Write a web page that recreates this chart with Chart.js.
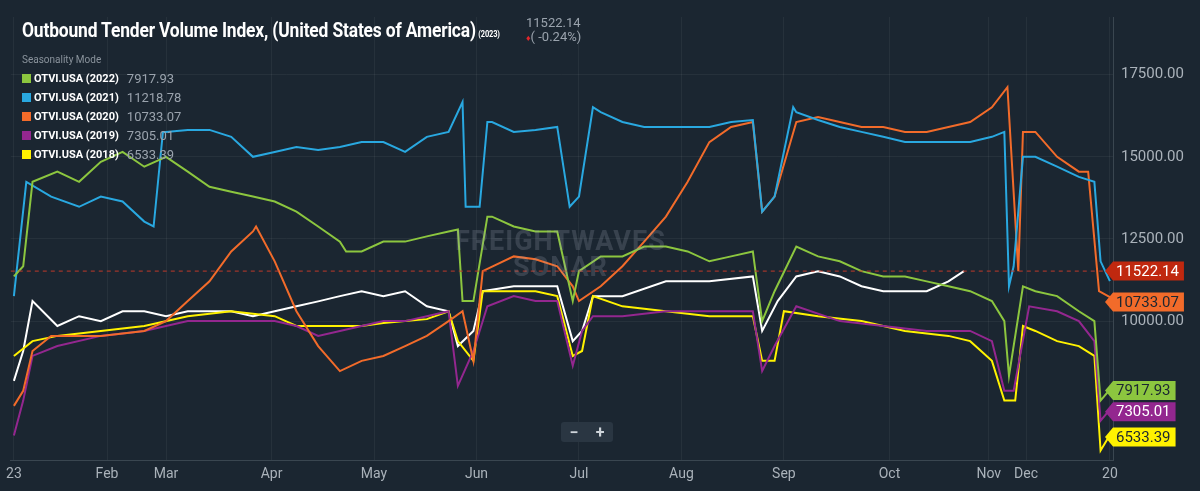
<!DOCTYPE html>
<html><head><meta charset="utf-8">
<script src="https://cdn.jsdelivr.net/npm/chart.js@4/dist/chart.umd.min.js"></script>
<style>
html,body{margin:0;padding:0;background:#e9ecef;}
#wrap{position:relative;width:1200px;height:491px;background:#1b2631;overflow:hidden;font-family:Roboto,"Noto Sans",sans-serif;}
canvas{position:absolute;left:0;top:0;}
#title{position:absolute;left:22px;top:18px;color:#fff;font-family:Roboto;font-weight:bold;font-size:21px;transform:scaleX(0.83);transform-origin:left top;white-space:nowrap;letter-spacing:-0.2px;}
#title small{font-size:9px;margin-left:3px;}
#val{position:absolute;left:526px;top:16px;color:#9aa3ad;font-size:13px;line-height:14px;}
#val span{color:#e0262b;font-size:9px;}
#leg{position:absolute;left:22px;top:54px;font-size:11px;color:#fff;}
#leg .m{color:#8a939c;font-size:10px;margin-bottom:4px;}
#leg .r{height:19px;display:flex;align-items:center;font-weight:bold;}
#leg .r i{display:inline-block;width:9px;height:9px;margin-right:3px;}
#leg .r b{font-weight:normal;color:#9aa3ad;font-size:13px;margin-left:8px;}
#zoom{position:absolute;left:561px;top:422px;width:52px;height:20px;background:#2a3642;border-radius:3px;color:#cfd5db;font-size:16px;display:flex;justify-content:space-around;align-items:center;font-weight:bold;}
#wm{position:absolute;left:455px;top:228px;color:rgba(160,170,180,0.22);font-weight:bold;font-size:27px;letter-spacing:1px;line-height:26px;text-align:center;}
</style></head><body>
<div id="wrap"><canvas id="c" width="1200" height="491"></canvas>
<div id="wm">FREIGHTWAVES<br>SONAR</div>
<div id="title">Outbound Tender Volume Index, (United States of America)<small>(2023)</small></div>
<div id="val">11522.14<br><span>♦</span>( -0.24%)</div>
<div id="leg"><div class="m">Seasonality Mode</div></div>
<div id="zoom"><span>−</span><span>+</span></div>
</div>
<script>
const tickDays=[0,30,49,83,116,149,182,215,248,282,314,326,353];
const tickLabels=["23","Feb","Mar","Apr","May","Jun","Jul","Aug","Sep","Oct","Nov","Dec","20"];
const yTicks=[10000,12500,15000,17500];
const current=11522.14;

const d2021=[0,4,12,21,28,35,42,45,48,49,56,63,70,77,84,91,98,105,112,119,126,133,140,144.5,145.5,150,152.5,154,161,168,175,179,182,186.5,189,196,203,210,217,224,231,238,241,245,251,252,259,266,273,280,287,294,301,308,315,319,320.5,322,325,329,336,343,348,350,353];
const v2021=[10760,14240,13790,13480,13790,13640,13030,12880,15760,15760,15820,15820,15610,15000,15150,15300,15210,15300,15450,15450,15150,15610,15760,16670,13480,13480,16060,16060,15760,15820,15910,13480,13790,16510,16360,16060,15910,15910,15910,15910,16060,16120,13330,13790,16510,16360,16120,15910,15760,15610,15450,15450,15450,15450,15610,15760,11060,11670,15000,15000,14700,14390,14240,11820,11218.78];

const d2020=[0,3,6,12,28,42,49,56,63,70,77,78,84,91,98,105,112,119,126,133,140,144.5,148,151,161,168,175,180,182,189,196,203,210,217,224,231,238,241,245,252,259,266,273,280,287,294,301,308,315,320,323.5,325,329,336,343,346,349.5,353];
const v2020=[7420,7880,9090,9550,9550,9700,10000,10610,11210,12120,12730,12880,11820,10300,9240,8480,8790,8940,9240,9550,10000,10300,8790,11520,11970,11880,11670,11060,10610,11060,11670,12420,13180,14240,15450,15910,16060,13330,13790,16060,16210,16060,15910,15910,15760,15760,15910,16060,16510,17120,11520,15760,15760,15000,14550,14550,10910,10733.07];

const d2022=[0,3,6,14,21,28,35,42,49,56,63,70,77,84,91,98,105,107,112,119,126,133,140,143,144.5,148,152.5,154,161,168,175,180,182,189,196,203,210,217,224,231,238,241,245,252,259,266,273,280,287,294,301,308,315,319,320.5,325,329,336,343,348,350,353];
const v2022=[11360,11670,14240,14550,14240,14850,15150,14700,15000,14550,14090,13940,13790,13640,13330,12880,12420,12120,12120,12420,12420,12580,12730,12790,10610,10610,13180,13180,12880,12730,12730,10610,11520,11970,11970,12270,12270,12120,11820,11970,12120,10000,10910,12270,11970,11820,11520,11360,11360,11210,11060,10910,10610,10000,8330,11060,10910,10760,10300,10000,7580,7917.93];

const d2019=[0,3,6,14,28,42,56,70,84,91,98,105,112,119,126,133,140,143,148,152.5,161,168,175,180,183,186.5,196,210,224,238,241,245,252,266,280,294,308,315,319,322,327,336,343,348,350,353];
const v2019=[6520,7580,8940,9240,9550,9700,10000,10000,10000,9850,9550,9700,9850,10000,10000,10150,10300,8030,9090,10450,10760,10610,10610,8640,9700,10150,10150,10300,10300,10300,8480,9240,10450,10000,9850,9700,9700,9390,7880,7880,10450,10300,10000,9390,6970,7305.01];

const d2018=[0,6,14,28,42,56,70,84,91,98,105,112,119,126,133,140,143,148,151,161,168,175,180,183,186.5,196,210,224,238,241,245,248,259,273,287,301,308,315,319,322.5,325,329,336,343,348,350,353];
const v2018=[8940,9390,9550,9700,9850,10150,10300,10150,9850,9850,9850,9850,9940,10000,10060,10300,9390,8790,10910,10910,10910,10760,8940,9090,10760,10450,10300,10150,10150,8790,8790,10300,10150,10000,9700,9550,9390,8790,7580,7580,9850,9700,9390,9240,8940,6060,6533.39];

const d2023=[0,3,6,14,21,28,35,42,49,56,63,70,77,84,91,98,105,112,119,126,133,140,143,148,151,161,168,175,180,183,186.5,196,210,224,238,241,246,252,259,266,273,280,287,294,301,306];
const v2023=[8180,9090,10610,9850,10150,10000,10300,10300,10150,10300,10300,10300,10150,10300,10450,10600,10760,10910,10760,10910,10450,10300,9240,9700,10910,11060,11060,11060,9390,9700,10760,10760,11210,11210,11360,9700,10610,11360,11520,11360,11060,10910,10910,10910,11210,11522.14];

const series=[
 {name:"OTVI.USA (2022)",last:"7917.93",color:"#8cc63f",d:d2022,v:v2022},
 {name:"OTVI.USA (2021)",last:"11218.78",color:"#29a8e0",d:d2021,v:v2021},
 {name:"OTVI.USA (2020)",last:"10733.07",color:"#f26b2a",d:d2020,v:v2020},
 {name:"OTVI.USA (2019)",last:"7305.01",color:"#93278f",d:d2019,v:v2019},
 {name:"OTVI.USA (2018)",last:"6533.39",color:"#fff200",d:d2018,v:v2018}
];
const leg=document.getElementById('leg');
series.forEach(s=>{const r=document.createElement('div');r.className='r';r.innerHTML=`<i style="background:${s.color}"></i>${s.name}<b>${s.last}</b>`;leg.appendChild(r);});

const datasets=series.map(s=>({data:s.d.map((x,i)=>({x,y:s.v[i]})),borderColor:s.color,borderWidth:2,pointRadius:0,tension:0}));
datasets.push({data:d2023.map((x,i)=>({x,y:v2023[i]})),borderColor:"#ffffff",borderWidth:2,pointRadius:0,tension:0});

const tags=[{v:current,t:"11522.14",bg:"#c0280f",fg:"#fff"},{v:10733.07,t:"10733.07",bg:"#f26b2a",fg:"#1b2631"},{v:7917.93,t:"7917.93",bg:"#8cc63f",fg:"#1b2631"},{v:7305.01,t:"7305.01",bg:"#93278f",fg:"#fff"},{v:6533.39,t:"6533.39",bg:"#fff200",fg:"#1b2631"}];
const overlay={id:'ov',afterDatasetsDraw(ch){const c=ch.ctx,y=ch.scales.y,a=ch.chartArea;
 c.save();c.strokeStyle='#c0392b';c.setLineDash([4,4]);c.lineWidth=1;const py=y.getPixelForValue(current);c.beginPath();c.moveTo(a.left,py);c.lineTo(a.right,py);c.stroke();c.setLineDash([]);
 c.font='15px Roboto';
 let offs={"10733.07":5,"7917.93":1,"7305.01":2,"6533.39":2};
 tags.forEach(tg=>{let ty=y.getPixelForValue(tg.v)+(offs[tg.t]||0);const w=c.measureText(tg.t).width+8,x0=1113,h=19;
  c.fillStyle=tg.bg;c.beginPath();c.moveTo(x0-8,ty);c.lineTo(x0,ty-h/2);c.lineTo(x0+w,ty-h/2);c.lineTo(x0+w,ty+h/2);c.lineTo(x0,ty+h/2);c.closePath();c.fill();
  c.fillStyle=tg.fg;c.textBaseline='middle';c.fillText(tg.t,x0+3,ty+1);});
 c.restore();}};

new Chart(document.getElementById('c'),{type:'line',data:{datasets},
options:{responsive:false,animation:false,events:[],layout:{padding:{left:8,top:15,right:0,bottom:0}},
plugins:{legend:{display:false},tooltip:{enabled:false}},
scales:{
 x:{type:'linear',min:-1,max:354,afterBuildTicks(s){s.ticks=tickDays.map(v=>({value:v}));},
   ticks:{autoSkip:false,maxRotation:0,color:'#aab2ba',font:{size:14,family:'Roboto'},callback:(v,i)=>tickLabels[i],padding:6},
   grid:{color:'rgba(255,255,255,0.05)',drawTicks:false},border:{color:'#3a4650'},afterFit(s){s.height=31;}},
 y:{position:'right',min:5772,max:19257,afterBuildTicks(s){s.ticks=yTicks.map(v=>({value:v}));},
   ticks:{color:'#aab2ba',font:{size:15,family:'Roboto'},callback:v=>v.toFixed(2),padding:8},
   grid:{color:'rgba(255,255,255,0.05)',drawTicks:false},border:{color:'#3a4650'},afterFit(s){s.width=87;}}
}},plugins:[overlay]});
</script></body></html>
